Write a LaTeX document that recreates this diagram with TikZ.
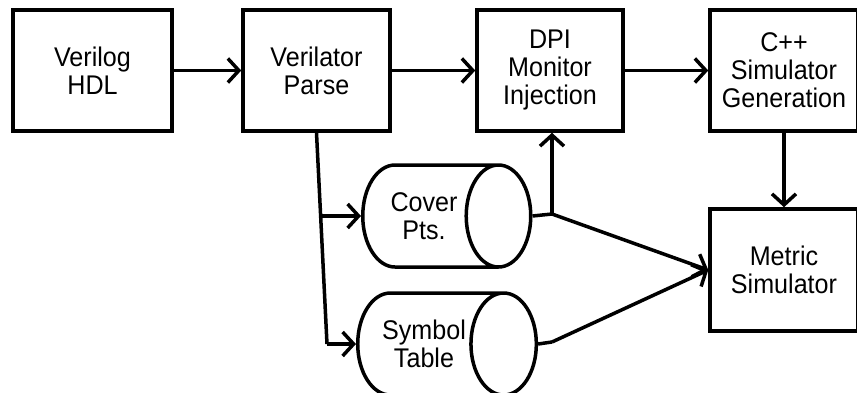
\documentclass[tikz,border=0pt]{standalone}
\usepackage{fontspec}
\setmainfont{Liberation Sans}[FakeStretch=0.93]
\usetikzlibrary{arrows.meta,shapes.geometric}

\tikzset{
    block/.style={draw, line width=3.5pt, minimum height=121pt, align=center,
        font=\fontsize{27}{28}\selectfont},
    store/.style={draw, cylinder, line width=3.5pt, minimum width=102pt, minimum height=168pt,
        aspect=1.2, align=center, font=\fontsize{27}{28}\selectfont},
    flow/.style={line width=3.5pt, -{Straight Barb[length=11pt,width=24pt,line width=3.5pt]}}
}

\begin{document}
\begin{tikzpicture}[x=1pt, y=-1pt]
    \useasboundingbox (0,0) rectangle (857,392);

    % Draw nodes
    \node[block, minimum width=159pt] (verilog) at (92.5, 70.5) {Verilog\\HDL};
    \node[block, minimum width=147pt] (parse) at (316.5, 70.5) {Verilator\\Parse};
    \node[block, minimum width=146pt] (dpi) at (550, 70.5) {DPI\\Monitor\\Injection};
    \node[block, minimum width=148pt] (cpp) at (784, 70.5) {C++\\Simulator\\Generation};
    \node[block, minimum width=148pt, minimum height=122pt] (metric) at (784, 270) {Metric\\Simulator};
    \node[store] (cover) at (424, 216) {Cover\\Pts.};
    \node[store] (symbol) at (424, 344) {Symbol\\Table};

    % Joints
    \coordinate (split) at (322, 216);
    \coordinate (bend) at (327, 344);
    \coordinate (merge1) at (552, 214);
    \coordinate (merge2) at (552, 342);

    % Draw edges
    \draw[flow] (verilog) -- (parse);
    \draw[flow] (parse) -- (dpi);
    \draw[flow] (dpi) -- (cpp);
    \draw[flow] (cpp) -- (metric);
    \draw[line width=3.5pt] (parse.south) -- (bend);
    \draw[flow] (split) -- (cover.west);
    \draw[flow] (bend) -- (symbol.west);
    \draw[line width=3.5pt] (cover.east) -- (merge1);
    \draw[flow] (merge1) -- (merge1 |- dpi.south);
    \draw[flow] (merge1) -- (metric.west);
    \draw[line width=3.5pt] (symbol.east) -- (merge2);
    \draw[flow] (merge2) -- (metric.west);
\end{tikzpicture}
\end{document}
